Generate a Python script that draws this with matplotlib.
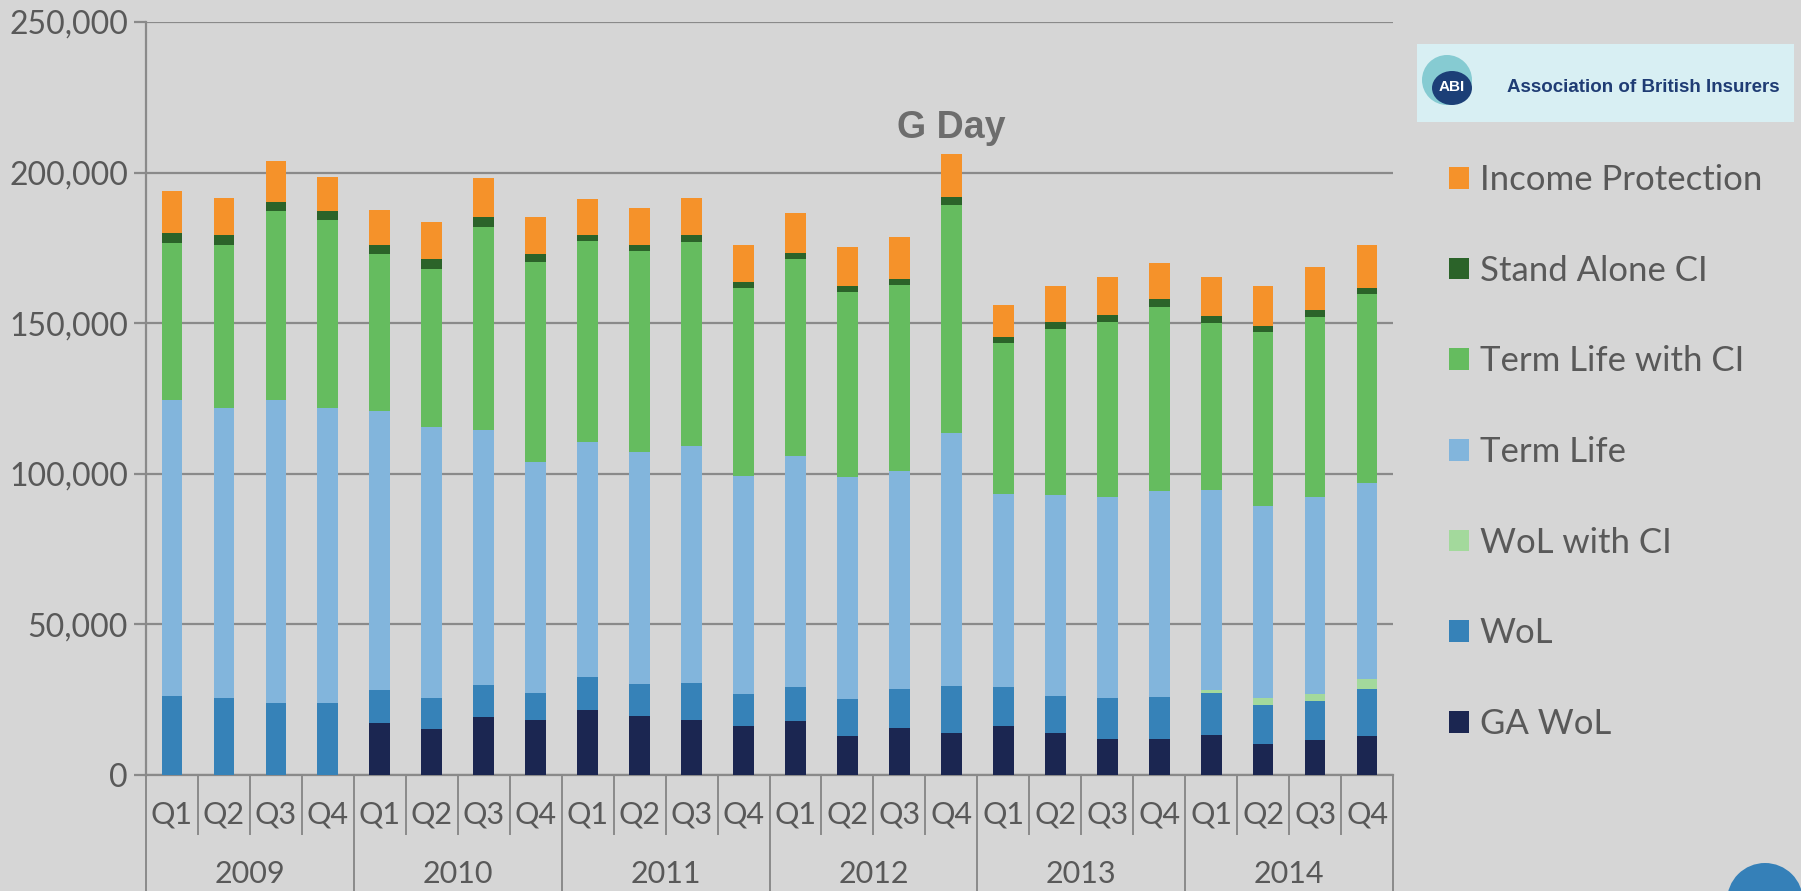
import numpy as np
import matplotlib
matplotlib.use("Agg")
import matplotlib.pyplot as plt
from matplotlib.patches import Rectangle, Circle, Ellipse
from matplotlib.ticker import FuncFormatter
from matplotlib.transforms import blended_transform_factory

# quarterly new protection policies
years = ["2009", "2010", "2011", "2012", "2013", "2014"]
quarters = ["Q1", "Q2", "Q3", "Q4"]

ga_wol = [0, 0, 0, 0, 17300, 15300, 19300, 18100, 21700, 19600, 18400, 16200,
          17800, 12800, 15500, 14000, 16200, 14000, 11800, 11800, 13400, 10400, 11700, 12800]
wol = [26300, 25400, 24000, 24000, 11000, 10100, 10600, 9200, 10800, 10700, 12100, 10700,
       11500, 12500, 13000, 15600, 12900, 12300, 13800, 14100, 13900, 12900, 13000, 15900]
wol_ci = [0, 0, 0, 0, 0, 0, 0, 0, 0, 0, 0, 0,
          0, 0, 0, 0, 0, 0, 0, 0, 1000, 2200, 2200, 3200]
term_life = [98200, 96500, 100500, 97700, 92600, 90200, 84700, 76700, 78100, 76900, 78700, 72300,
             76600, 73700, 72400, 83900, 64300, 66800, 66800, 68500, 66400, 63800, 65500, 64900]
term_life_ci = [52200, 54200, 62700, 62400, 52100, 52300, 67400, 66200, 66800, 66700, 67800, 62500,
                65500, 61400, 61700, 75900, 50000, 55000, 58100, 61100, 55500, 57700, 59700, 62800]
stand_alone_ci = [3300, 3200, 3200, 3100, 2900, 3300, 3400, 2900, 1800, 2000, 2200, 1900,
                  1800, 1900, 2000, 2500, 2100, 2400, 2300, 2500, 2100, 2100, 2300, 2100]
income_prot = [13900, 12400, 13400, 11400, 11700, 12300, 12800, 12300, 12200, 12200, 12500, 12500,
               13400, 12900, 14100, 14200, 10700, 12000, 12600, 12000, 13000, 13400, 14200, 14300]

names = ["GA WoL", "WoL", "WoL with CI", "Term Life", "Term Life with CI",
         "Stand Alone CI", "Income Protection"]
series = [ga_wol, wol, wol_ci, term_life, term_life_ci, stand_alone_ci, income_prot]
colors = ["#1b2651", "#3682b8", "#a3d99c", "#82b5dc", "#65bc5f", "#2b6329", "#f5922a"]

bg = "#d6d6d6"
grid_c = "#8a8a8a"
txt_c = "#595959"
font = ["Lato", "DejaVu Sans"]
arial = ["Liberation Sans", "DejaVu Sans"]

fig = plt.figure(figsize=(18.01, 8.91), dpi=100, facecolor=bg)
ax = fig.add_axes([146 / 1801, 116 / 891, (1393 - 146) / 1801, (775 - 22) / 891])
ax.set_facecolor(bg)

x = np.arange(len(ga_wol))
bottom = np.zeros(len(x))
for vals, col, name in zip(series, colors, names):
    vals = np.array(vals, dtype=float)
    ax.bar(x, vals, 0.4, bottom=bottom, color=col, label=name, zorder=3)
    bottom += vals

ax.set_xlim(-0.5, len(x) - 0.5)
ax.set_ylim(0, 250000)
ax.set_yticks(np.arange(0, 250001, 50000))
ax.yaxis.set_major_formatter(FuncFormatter(lambda v, p: f"{int(v):,}"))
ax.grid(axis="y", color=grid_c, lw=1.6, zorder=1)
ax.set_axisbelow(True)
for s in ["top", "right"]:
    ax.spines[s].set_visible(False)
for s in ["left", "bottom"]:
    ax.spines[s].set_color(grid_c)
    ax.spines[s].set_linewidth(1.6)
ax.tick_params(axis="y", length=9, width=1.6, color=grid_c, pad=4,
               labelsize=23, labelcolor=txt_c)
for lab in ax.get_yticklabels():
    lab.set_family(font)

# quarter labels + year labels underneath
q_labels = [q for y in years for q in quarters]
ax.set_xticks(x, q_labels)
ax.tick_params(axis="x", length=0, pad=18, labelsize=22, labelcolor=txt_c)
for lab in ax.get_xticklabels():
    lab.set_family(font)

tr = blended_transform_factory(ax.transData, ax.transAxes)
for i in range(len(x) + 1):
    edge = i - 0.5
    low = -0.155 if i % 4 == 0 else -0.078
    ax.plot([edge, edge], [0, low], transform=tr, color=grid_c, lw=1.4, clip_on=False)
for j, yr in enumerate(years):
    ax.text(j * 4 + 1.5, -0.132, yr, transform=tr, ha="center", va="center",
            fontsize=22, color=txt_c, family=font)

ax.text(15, 214800, "G Day", ha="center", va="center", fontsize=27,
        fontweight="bold", color="#6d6d6d", family=arial)

# legend, top series first
handles, labels = ax.get_legend_handles_labels()
leg = fig.legend(handles[::-1], labels[::-1], loc="upper left",
                 bbox_to_anchor=(1449 / 1801, 1 - 164 / 891), frameon=False,
                 fontsize=25, labelspacing=1.69, handlelength=0.58, handleheight=0.58,
                 handletextpad=0.3, borderpad=0, borderaxespad=0)
for t in leg.get_texts():
    t.set_color(txt_c)
    t.set_family(font)

# decorations drawn in pixel units: ABI logo and corner circle
deco = fig.add_axes([0, 0, 1, 1], facecolor="none")
deco.set_xlim(0, 1801)
deco.set_ylim(0, 891)
deco.axis("off")
deco.add_patch(Rectangle((1417, 891 - 122), 377, 78, facecolor="#d8eff3", edgecolor="none"))
deco.add_patch(Circle((1447, 891 - 80), 25, facecolor="#86cbd2", edgecolor="none"))
deco.add_patch(Ellipse((1452, 891 - 88), 40, 34, facecolor="#1c3f77", edgecolor="none"))
deco.text(1452, 891 - 87, "ABI", color="white", fontsize=11, fontweight="bold",
          ha="center", va="center", family=arial)
deco.text(1507, 891 - 87, "Association of British Insurers", color="#1f3c74",
          fontsize=13.5, fontweight="bold", ha="left", va="center", family=arial)
deco.add_patch(Circle((1765, -10), 38, facecolor="#3580b8", edgecolor="none", clip_on=False))

fig.savefig("out.png", dpi=100, facecolor=bg)
